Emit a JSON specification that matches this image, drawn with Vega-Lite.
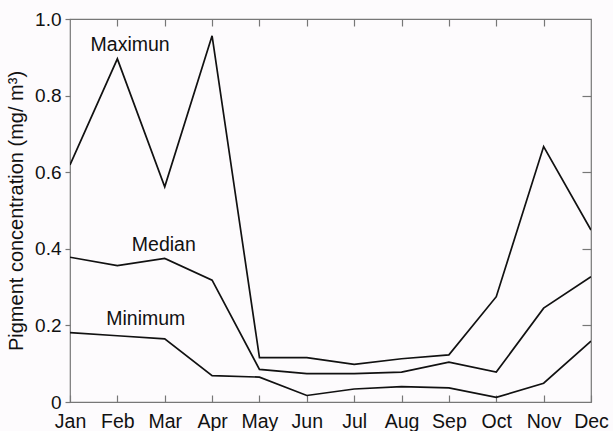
{
  "$schema": "https://vega.github.io/schema/vega-lite/v6.json",
  "autosize": {"type": "none"},
  "width": 521,
  "height": 383,
  "padding": {"left": 70, "top": 19, "right": 22, "bottom": 29},
  "background": "#fdfbfd",
  "config": {
    "view": {"stroke": "#777777", "strokeWidth": 1.2},
    "font": "Liberation Sans"
  },
  "datasets": {
    "series": [
      {"m": 0, "s": "Maximum", "v": 0.619},
      {"m": 1, "s": "Maximum", "v": 0.896},
      {"m": 2, "s": "Maximum", "v": 0.562},
      {"m": 3, "s": "Maximum", "v": 0.956},
      {"m": 4, "s": "Maximum", "v": 0.116},
      {"m": 5, "s": "Maximum", "v": 0.116},
      {"m": 6, "s": "Maximum", "v": 0.098},
      {"m": 7, "s": "Maximum", "v": 0.113},
      {"m": 8, "s": "Maximum", "v": 0.123},
      {"m": 9, "s": "Maximum", "v": 0.275},
      {"m": 10, "s": "Maximum", "v": 0.667},
      {"m": 11, "s": "Maximum", "v": 0.449},
      {"m": 0, "s": "Median", "v": 0.378},
      {"m": 1, "s": "Median", "v": 0.356},
      {"m": 2, "s": "Median", "v": 0.375},
      {"m": 3, "s": "Median", "v": 0.318},
      {"m": 4, "s": "Median", "v": 0.085},
      {"m": 5, "s": "Median", "v": 0.074},
      {"m": 6, "s": "Median", "v": 0.074},
      {"m": 7, "s": "Median", "v": 0.078},
      {"m": 8, "s": "Median", "v": 0.104},
      {"m": 9, "s": "Median", "v": 0.078},
      {"m": 10, "s": "Median", "v": 0.245},
      {"m": 11, "s": "Median", "v": 0.327},
      {"m": 0, "s": "Minimum", "v": 0.181},
      {"m": 1, "s": "Minimum", "v": 0.173},
      {"m": 2, "s": "Minimum", "v": 0.165},
      {"m": 3, "s": "Minimum", "v": 0.069},
      {"m": 4, "s": "Minimum", "v": 0.065},
      {"m": 5, "s": "Minimum", "v": 0.017},
      {"m": 6, "s": "Minimum", "v": 0.034},
      {"m": 7, "s": "Minimum", "v": 0.040},
      {"m": 8, "s": "Minimum", "v": 0.037},
      {"m": 9, "s": "Minimum", "v": 0.012},
      {"m": 10, "s": "Minimum", "v": 0.049},
      {"m": 11, "s": "Minimum", "v": 0.159}
    ],
    "labels": [
      {"label": "Maximun", "m": 1.27, "v": 0.932},
      {"label": "Median", "m": 1.98, "v": 0.41},
      {"label": "Minimum", "m": 1.6, "v": 0.217}
    ]
  },
  "layer": [
    {
      "data": {"name": "series"},
      "mark": {"type": "line", "color": "#111111", "strokeWidth": 1.7, "clip": true},
      "encoding": {
        "x": {
          "field": "m", "type": "quantitative",
          "scale": {"domain": [0, 11], "nice": false, "zero": false},
          "axis": {
            "orient": "bottom", "title": null,
            "values": [0,1,2,3,4,5,6,7,8,9,10,11],
            "labelExpr": "['Jan','Feb','Mar','Apr','May','Jun','Jul','Aug','Sep','Oct','Nov','Dec'][datum.value]",
            "labelFontSize": 19.5, "labelColor": "#111111",
            "labelPadding": 17,
            "tickSize": -7, "tickColor": "#777777", "tickWidth": 1.2,
            "domain": false, "grid": false, "labelFlush": false
          }
        },
        "y": {
          "field": "v", "type": "quantitative",
          "scale": {"domain": [0, 1], "nice": false},
          "axis": {
            "orient": "left",
            "title": "Pigment concentration (mg/ m³)",
            "titleFontSize": 20, "titleFontWeight": "normal", "titleColor": "#111111",
            "titlePadding": 8,
            "values": [0, 0.2, 0.4, 0.6, 0.8, 1.0],
            "labelExpr": "datum.value == 0 ? '0' : format(datum.value, '.1f')",
            "labelFontSize": 19, "labelColor": "#111111",
            "labelPadding": 4,
            "tickSize": 5, "tickColor": "#777777", "tickWidth": 1.2,
            "domain": false, "grid": false, "labelFlush": false
          }
        },
        "detail": {"field": "s"}
      }
    },
    {
      "data": {"name": "labels"},
      "mark": {"type": "text", "fontSize": 19.5, "color": "#111111", "align": "center", "baseline": "middle"},
      "encoding": {
        "x": {
          "field": "m", "type": "quantitative",
          "axis": {
            "orient": "top", "title": null,
            "values": [1,2,3,4,5,6,7,8,9,10],
            "labels": false,
            "tickSize": -7, "tickColor": "#777777", "tickWidth": 1.2,
            "domain": false, "grid": false
          }
        },
        "y": {
          "field": "v", "type": "quantitative",
          "axis": {
            "orient": "right", "title": null,
            "values": [0.2, 0.4, 0.6, 0.8],
            "labels": false,
            "tickSize": -9, "tickColor": "#777777", "tickWidth": 1.2,
            "domain": false, "grid": false
          }
        },
        "text": {"field": "label"}
      }
    }
  ],
  "resolve": {"axis": {"x": "independent", "y": "independent"}}
}
